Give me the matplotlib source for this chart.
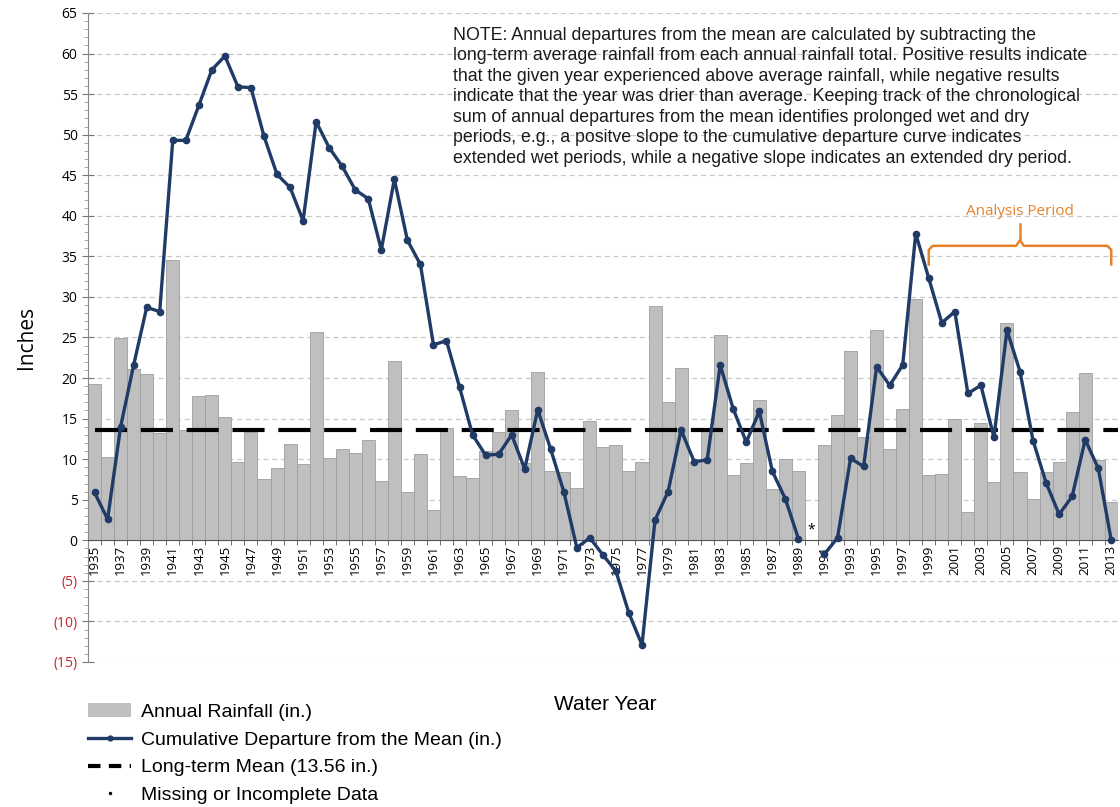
import numpy as np
import matplotlib
matplotlib.use('Agg')
import matplotlib.pyplot as plt
from matplotlib.lines import Line2D
from matplotlib.patches import Patch
from matplotlib.ticker import MultipleLocator, FixedLocator

plt.rcParams['font.family'] = ['Open Sans', 'DejaVu Sans']
arial = ['Liberation Sans', 'DejaVu Sans']

# ---- data ----
years = list(range(1935, 2014))

# annual rainfall (in.), 1990 missing
rainfall = [19.3, 10.3, 24.9, 21.1, 20.5, 13.2, 34.6, 13.6, 17.8, 17.9,
            15.2, 9.7, 13.4, 7.5, 8.9, 11.9, 9.4, 25.7, 10.2, 11.2,
            10.7, 12.4, 7.3, 22.1, 6.0, 10.6, 3.7, 13.9, 7.9, 7.7,
            11.0, 13.4, 16.1, 9.5, 20.8, 8.6, 8.4, 6.5, 14.7, 11.5,
            11.7, 8.5, 9.6, 28.9, 17.0, 21.2, 9.7, 13.7, 25.3, 8.1,
            9.5, 17.3, 6.3, 10.0, 8.6, np.nan, 11.7, 15.5, 23.3, 12.7,
            25.9, 11.2, 16.2, 29.8, 8.0, 8.2, 15.0, 3.5, 14.5, 7.2,
            26.8, 8.4, 5.1, 8.4, 9.7, 15.8, 20.6, 9.9, 4.7]

# cumulative departure from the mean (in.)
cum_departure = [5.9, 2.6, 14.0, 21.6, 28.7, 28.2, 49.3, 49.3, 53.6, 58.0,
                 59.7, 55.9, 55.8, 49.8, 45.1, 43.5, 39.4, 51.6, 48.4, 46.1,
                 43.2, 42.1, 35.8, 44.5, 37.0, 34.0, 24.1, 24.6, 18.9, 13.0,
                 10.5, 10.6, 13.0, 8.8, 16.1, 11.2, 6.0, -0.9, 0.3, -1.8,
                 -3.8, -9.0, -12.9, 2.5, 6.0, 13.6, 9.7, 9.9, 21.6, 16.2,
                 12.1, 15.9, 8.5, 5.1, 0.2, np.nan, -1.7, 0.3, 10.1, 9.1,
                 21.4, 19.1, 21.6, 37.8, 32.3, 26.8, 28.2, 18.1, 19.1, 12.7,
                 25.9, 20.8, 12.3, 7.1, 3.2, 5.4, 12.4, 8.9, 0.0]

long_term_mean = 13.56
missing_year = 1990
analysis_start, analysis_end = 1999, 2013

note_text = ("NOTE: Annual departures from the mean are calculated by subtracting the\n"
             "long-term average rainfall from each annual rainfall total. Positive results indicate\n"
             "that the given year experienced above average rainfall, while negative results\n"
             "indicate that the year was drier than average. Keeping track of the chronological\n"
             "sum of annual departures from the mean identifies prolonged wet and dry\n"
             "periods, e.g., a positve slope to the cumulative departure curve indicates\n"
             "extended wet periods, while a negative slope indicates an extended dry period.")

line_color = '#1F3B66'
orange = '#E8822A'

fig = plt.figure(figsize=(11.2, 8.07), dpi=100)
ax = fig.add_axes([0.0786, 0.1797, 0.9194, 0.8042])

# bars
ax.bar(years, rainfall, width=1.0, color='#BFBFBF', edgecolor='#9E9E9E',
       linewidth=0.6, zorder=2)

# mean line
ax.plot([years[0], years[-1] + 0.5], [long_term_mean] * 2, color='black',
        linewidth=3, dashes=(7.7, 3.3), zorder=3)

# cumulative departure
ax.plot(years, cum_departure, color=line_color, linewidth=2.4, marker='o',
        markersize=4.5, zorder=4)

# missing data marker
ax.text(missing_year, 1.3, '*', ha='center', va='center', fontsize=10, zorder=5)

# axes
ax.set_xlim(years[0] - 0.5, years[-1] + 0.5)
ax.set_ylim(-15, 65)
ax.yaxis.set_major_locator(MultipleLocator(5))
ax.yaxis.set_minor_locator(MultipleLocator(1))
ax.grid(True, axis='y', which='major', color='#C8C8C8', linestyle=(0, (4, 3)),
        linewidth=0.9, zorder=0)
ax.set_axisbelow(True)

ax.spines['top'].set_visible(False)
ax.spines['right'].set_visible(False)
ax.spines['bottom'].set_position(('data', 0))
ax.spines['bottom'].set_color('#555555')
ax.spines['left'].set_color('#888888')

yt = list(range(-15, 66, 5))
ax.set_yticks(yt)
ax.set_yticklabels([f'({-v})' if v < 0 else str(v) for v in yt], fontsize=10)
for lbl, v in zip(ax.get_yticklabels(), yt):
    if v < 0:
        lbl.set_color('#C0282D')
ax.tick_params(axis='y', which='major', direction='inout', length=8, color='#777777')
ax.tick_params(axis='y', which='minor', direction='out', length=3, color='#999999')

label_years = years[::2]
ax.xaxis.set_major_locator(FixedLocator(label_years))
ax.set_xticklabels([str(y) for y in label_years], rotation=90, fontsize=9.5)
ax.xaxis.set_minor_locator(FixedLocator([y + 0.5 for y in years[:-1]]))
ax.tick_params(axis='x', which='major', length=0, pad=3)
ax.tick_params(axis='x', which='minor', direction='inout', length=7, color='#555555')

ax.set_ylabel('Inches', fontsize=15, labelpad=12)
fig.text(0.54, 0.127, 'Water Year', fontsize=15, ha='center', va='center',
         family=arial)

# note
ax.text(0.354, 0.979, note_text, transform=ax.transAxes, fontsize=12.8,
        ha='left', va='top', linespacing=1.27, color='#1A1A1A', family=arial)

# analysis period brace
x0, x1 = analysis_start, analysis_end
xm = (x0 + x1) / 2
ax.plot([x0, x0, x0 + 0.3, xm - 0.3, xm, xm + 0.3, x1 - 0.3, x1, x1],
        [34.0, 35.8, 36.3, 36.3, 37.0, 36.3, 36.3, 35.8, 34.0],
        color=orange, linewidth=1.8, zorder=5)
ax.plot([xm, xm], [37.0, 39.0], color=orange, linewidth=1.8, zorder=5)
ax.text(xm, 39.6, 'Analysis Period', color=orange, fontsize=11,
        ha='center', va='bottom')

# legend
handles = [Patch(facecolor='#BFBFBF', edgecolor='none'),
           Line2D([], [], color=line_color, linewidth=2.4, marker='o', markersize=3.5),
           Line2D([], [], color='black', linewidth=3, dashes=(3, 2)),
           Line2D([], [], color='black', linestyle='none', marker='.', markersize=3)]
labels = ['Annual Rainfall (in.)', 'Cumulative Departure from the Mean (in.)',
          'Long-term Mean (13.56 in.)', 'Missing or Incomplete Data']
fig.legend(handles, labels, loc='upper left', bbox_to_anchor=(0.072, 0.138),
           frameon=False, handlelength=2.2, labelspacing=0.52,
           handletextpad=0.5, borderaxespad=0,
           prop={'family': arial, 'size': 14})

fig.savefig('out.png', dpi=100)
